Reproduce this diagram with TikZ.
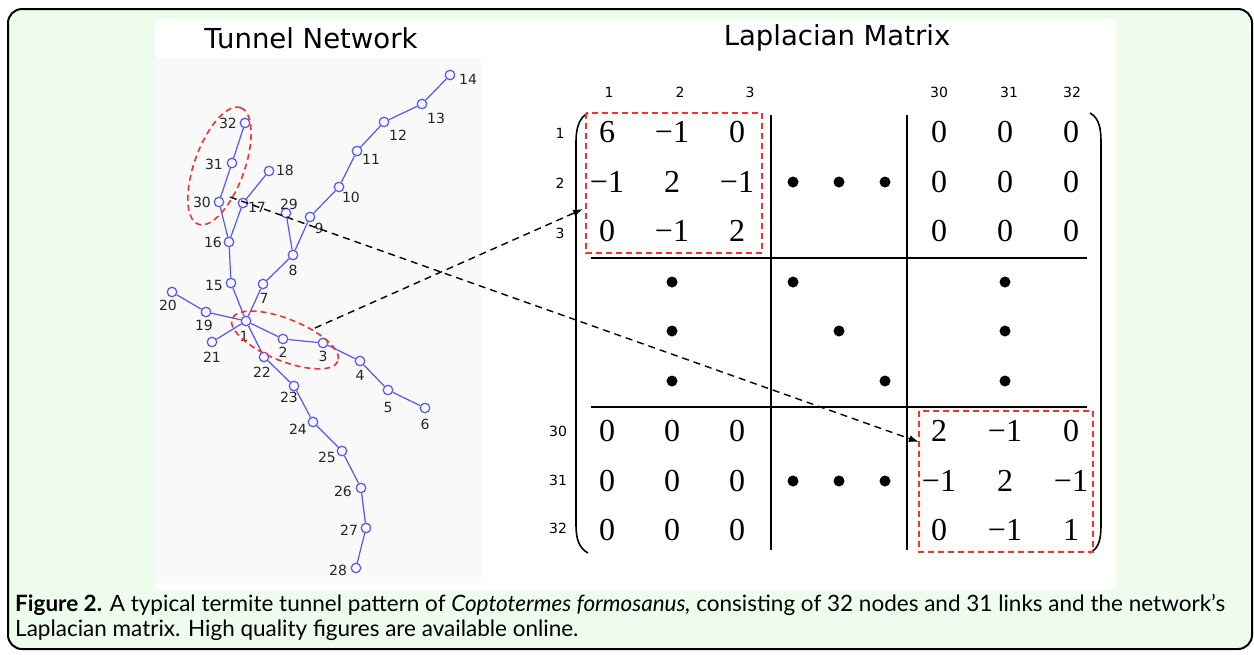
\documentclass[tikz,border=0pt]{standalone}
\usepackage{fontspec}
\setmainfont{Liberation Serif}
\newfontfamily\verd{DejaVu Sans}
\newfontfamily\capf{Lato}
\usetikzlibrary{arrows.meta}
\definecolor{bggreen}{RGB}{238,252,238}
\definecolor{panelgray}{RGB}{249,249,249}
\definecolor{netblue}{RGB}{85,85,255}
\definecolor{dred}{RGB}{255,45,45}
\begin{document}
\begin{tikzpicture}[x=1pt,y=-1pt,
 vtx/.style={circle,draw=netblue,line width=1.2pt,minimum size=9.5pt,inner sep=0pt},
 edge/.style={netblue,line width=1.2pt},
 lab/.style={font=\verd\fontsize{14}{14}\selectfont,text=black!85,inner sep=0pt},
 ent/.style={font=\fontsize{32}{32}\selectfont,inner sep=0pt},
 hdr/.style={font=\verd\fontsize{14}{14}\selectfont,inner sep=0pt},
 title/.style={font=\verd\fontsize{27.5}{27.5}\selectfont,inner sep=0pt},
 dotm/.style={circle,fill=black,minimum size=11pt,inner sep=0pt},
 reddash/.style={draw=dred,dash pattern=on 6pt off 4pt,line width=1.6pt},
 blkdash/.style={draw=black,line width=1.4pt,dash pattern=on 7pt off 5pt,-{Latex[length=10pt,width=7pt]}},
 grid/.style={black,line width=1.4pt},
 capt/.style={font=\capf\fontsize{22.5}{22.5}\selectfont,inner sep=0pt,anchor=base west},
]
\useasboundingbox (0,0) rectangle (1254,654);
% frame and panels
\draw[line width=2pt,rounded corners=14pt,fill=bggreen] (8,9) rectangle (1252,649);
\fill[white] (155,19) rectangle (1116,590);
\fill[panelgray] (155,58) rectangle (481,583);
% titles
\node[title] (tt1) at (311,38) {Tunnel Network};
\node[title] (tt2) at (837,38) {Laplacian Matrix};
% network nodes
\foreach \n/\x/\y in {1/246/321,2/283/339,3/323/343,4/360/361,5/388/390,6/425/408,
 7/263/284,8/293/255,9/310/217,10/339/187,11/357/151,12/384/122,13/422/104,14/450/75,
 15/231/283,16/229/242,17/243/203,18/269/171,19/206/312,20/172/292,21/212/342,
 22/264/357,23/294/386,24/313/422,25/342/451,26/361/488,27/366/528,28/356/568,
 29/286/213,30/219/202,31/232/163,32/245/123}
  \node[vtx] (n\n) at (\x,\y) {};
% edges
\foreach \a/\b in {1/2,2/3,3/4,4/5,5/6,1/7,7/8,8/9,9/10,10/11,11/12,12/13,13/14,
 1/15,15/16,16/17,17/18,16/30,30/31,31/32,1/19,19/20,1/21,1/22,22/23,23/24,24/25,
 25/26,26/27,27/28,8/29}
  \draw[edge] (n\a) -- (n\b);
% node labels
\foreach \n/\x/\y in {1/244/336,2/283/352,3/323/356,4/360/375,5/388/407,6/425/424,
 7/264/298,8/293/270,9/319/228,10/351/197,11/371/159,12/398/135,13/436/118,14/468/79,
 15/214/285,16/213/242,17/257/207,18/285/170,19/204/325,20/168/305,21/212/357,
 22/262/372,23/289/397,24/298/429,25/327/457,26/343/491,27/349/530,28/338/570,
 29/289/204,30/202/202,31/214/164,32/228/123}
  \node[lab] (l\n) at (\x,\y) {\n};
% red ellipses
\draw[reddash,rotate around={70:(219.5,166)}] (219.5,166) ellipse [x radius=62,y radius=25];
\draw[reddash,rotate around={-22:(285,340)}] (285,340) ellipse [x radius=57,y radius=21];
% matrix headers
\foreach \t/\x in {1/609,2/680,3/750,30/939,31/1009,32/1072}
  \node[hdr] (c\t) at (\x,92) {\t};
\foreach \t/\y in {1/133,2/183,3/233}
  \node[hdr] (r\t) at (560,\y) {\t};
\foreach \t/\y in {30/431,31/480,32/528}
  \node[hdr] (r\t) at (558,\y) {\t};
% parentheses
\draw[line width=1.6pt] (588,113) .. controls (579,118) and (576,128) .. (576,142) -- (576,525) .. controls (576,539) and (579,548) .. (588,553);
\draw[line width=1.6pt] (1090,113) .. controls (1099,118) and (1101,128) .. (1101,142) -- (1101,525) .. controls (1101,539) and (1099,548) .. (1090,553);
% grid lines
\draw[grid] (771,115) -- (771,550);
\draw[grid] (907,115) -- (907,550);
\draw[grid] (591,258) -- (1087,258);
\draw[grid] (591,407) -- (1087,407);
% entries top-left
\node[ent] (a11) at (607,132) {6};
\node[ent] (a12) at (672,132) {−1};
\node[ent] (a13) at (737,132) {0};
\node[ent] (a21) at (607,182) {−1};
\node[ent] (a22) at (672,182) {2};
\node[ent] (a23) at (737,182) {−1};
\node[ent] (a31) at (607,231) {0};
\node[ent] (a32) at (672,231) {−1};
\node[ent] (a33) at (737,231) {2};
% top-right zeros
\foreach \r/\y in {1/132,2/182,3/231}
  \foreach \c/\x in {1/939,2/1005,3/1071}
    \node[ent] (b\r\c) at (\x,\y) {0};
% bottom-left zeros
\foreach \r/\y in {1/431,2/481,3/530}
  \foreach \c/\x in {1/607,2/672,3/737}
    \node[ent] (c\r\c) at (\x,\y) {0};
% bottom-right block
\node[ent] (d11) at (939,431) {2};
\node[ent] (d12) at (1005,431) {−1};
\node[ent] (d13) at (1071,431) {0};
\node[ent] (d21) at (939,481) {−1};
\node[ent] (d22) at (1005,481) {2};
\node[ent] (d23) at (1071,481) {−1};
\node[ent] (d31) at (939,530) {0};
\node[ent] (d32) at (1005,530) {−1};
\node[ent] (d33) at (1071,530) {1};
% dots
\foreach \i/\x/\y in {1/793/182,2/839/182,3/885/182,4/672/282,5/672/331,6/672/381,
 7/793/282,8/839/331,9/885/381,10/1005/282,11/1005/331,12/1005/381,
 13/793/481,14/839/481,15/885/481}
  \node[dotm] (dt\i) at (\x,\y) {};
% red boxes
\draw[reddash] (586,113) rectangle (762,253);
\draw[reddash] (919,411) rectangle (1093,552);
% arrows
\coordinate (s1) at (315,328);
\coordinate (t1) at (583,209);
\coordinate (s2) at (230,197);
\coordinate (t2) at (919,442);
\draw[blkdash] (s1) -- (t1);
\draw[blkdash] (s2) -- (t2);
% caption
\node[capt] (cap1) at (15,611) {\textbf{Figure 2.} A typical termite tunnel pattern of \textit{Coptotermes formosanus,} consisting of 32 nodes and 31 links and the network’s};
\node[capt] (cap2) at (15,636) {Laplacian matrix. High quality figures are available online.};
\end{tikzpicture}
\end{document}
